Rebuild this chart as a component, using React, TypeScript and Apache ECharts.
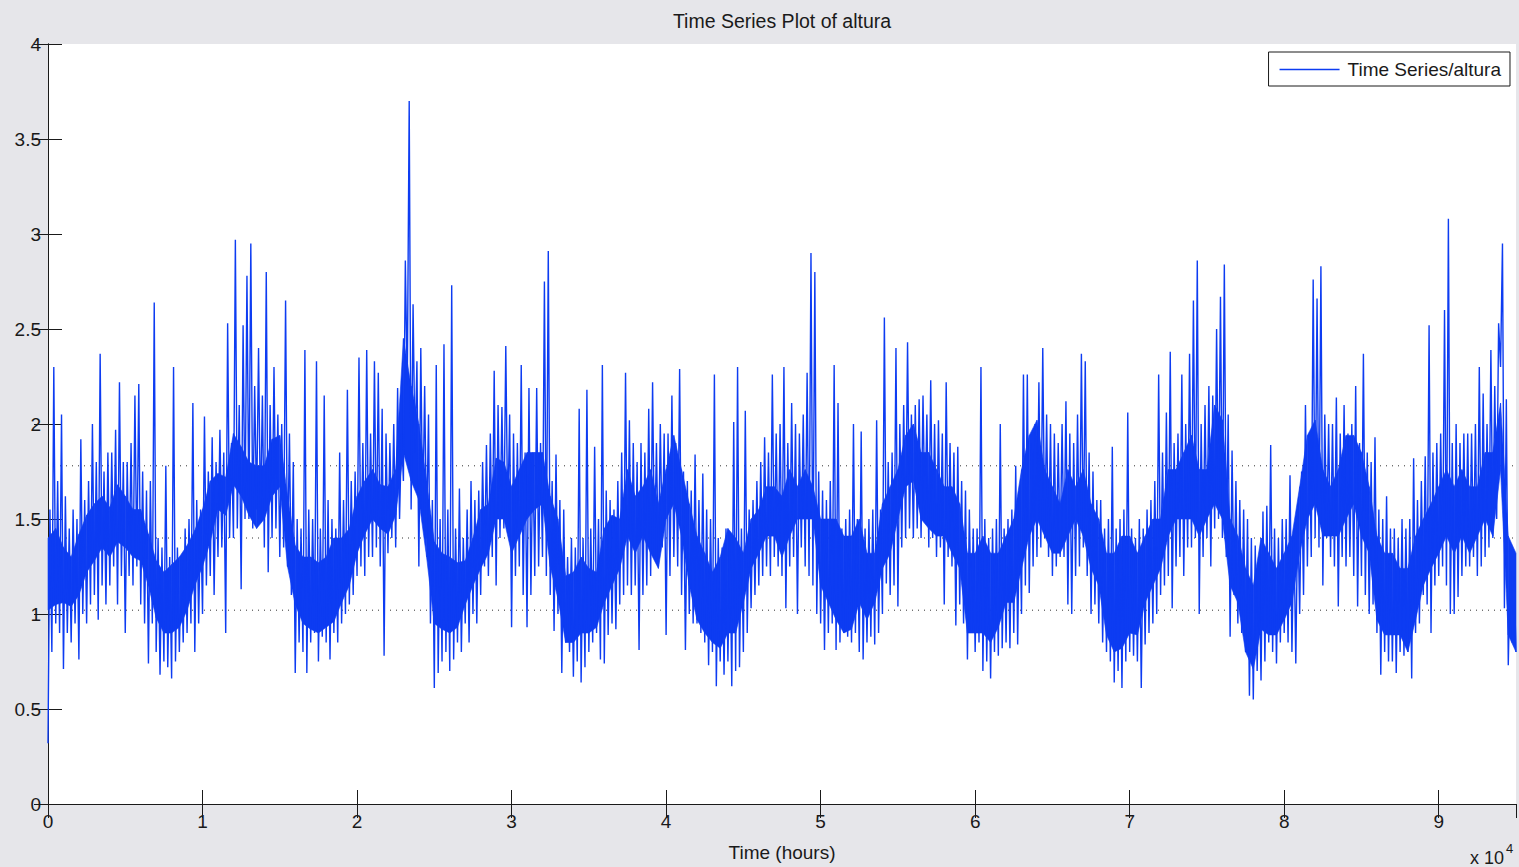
import React, { useEffect, useRef } from "react";
import * as echarts from "echarts";

// Sampled reading of the hourly series (one value every 125 hours, 0 .. 95000 h)
const HOURS_STEP = 125;
const altura: number[] = [
  // 0 – 10 000 h
  0.32, 1.55, 0.80, 2.30, 0.95, 1.70, 0.90, 2.05,
  0.71, 1.62, 0.90, 1.45, 0.85, 1.55, 0.95, 1.50,
  0.76, 1.92, 1.00, 1.60, 0.95, 1.70, 1.05, 2.00,
  1.10, 1.80, 0.97, 2.37, 1.15, 1.75, 1.05, 1.85,
  1.15, 1.85, 1.25, 1.97, 1.05, 2.22, 1.20, 1.80,
  0.90, 1.80, 1.20, 1.90, 1.15, 2.15, 1.25, 2.21,
  1.05, 1.75, 0.95, 1.65, 0.74, 1.70, 0.95, 2.64,
  0.80, 1.40, 0.68, 1.35, 0.75, 1.78, 0.72, 1.30,
  0.66, 2.30, 0.75, 1.35, 0.80, 1.30, 0.85, 1.45,
  0.90, 1.50, 0.95, 2.11, 0.80, 1.60, 0.95, 1.55,
  // 10 000 – 20 000 h
  1.00, 2.04, 1.15, 1.75, 1.20, 1.93, 1.10, 1.80,
  1.30, 1.97, 1.35, 1.85, 0.90, 2.53, 1.40, 1.90,
  1.40, 2.97, 1.45, 2.10, 1.13, 2.52, 1.50, 2.78,
  1.50, 2.95, 1.45, 2.20, 1.55, 2.40, 1.50, 2.15,
  1.35, 2.80, 1.22, 2.10, 1.40, 2.30, 1.45, 2.05,
  1.30, 2.00, 1.35, 2.65, 1.25, 1.95, 1.10, 1.80,
  0.69, 1.50, 0.85, 1.45, 0.80, 2.39, 0.69, 1.55,
  0.85, 1.50, 0.90, 2.33, 0.75, 1.45, 0.88, 2.15,
  0.85, 1.60, 0.76, 1.50, 0.90, 1.45, 0.85, 1.85,
  0.95, 1.60, 1.00, 2.18, 1.05, 1.70, 1.10, 1.75,
  // 20 000 – 30 000 h
  1.20, 2.35, 1.25, 1.90, 1.20, 2.39, 1.30, 1.95,
  1.30, 2.33, 1.35, 2.27, 1.25, 2.08, 0.78, 1.95,
  1.32, 1.90, 1.40, 2.00, 1.35, 2.19, 1.50, 1.95,
  1.70, 2.86, 2.20, 3.70, 1.55, 2.63, 1.85, 2.33,
  1.25, 2.40, 1.50, 2.20, 1.40, 2.05, 0.95, 1.60,
  0.61, 2.31, 0.69, 1.50, 0.75, 2.42, 0.80, 1.55,
  0.70, 2.73, 0.76, 1.45, 0.85, 1.66, 0.80, 1.40,
  0.95, 1.55, 0.85, 1.70, 1.00, 1.60, 0.95, 1.65,
  1.10, 1.80, 1.25, 1.89, 1.20, 1.95, 1.30, 2.28,
  1.15, 2.10, 1.40, 2.09, 1.45, 2.41, 1.50, 2.05,
  // 30 000 – 40 000 h
  0.93, 1.95, 1.20, 1.90, 1.25, 2.31, 1.10, 1.85,
  0.93, 2.19, 1.10, 1.85, 1.20, 2.19, 1.25, 1.90,
  1.30, 2.75, 1.20, 2.91, 1.10, 1.70, 0.91, 1.84,
  1.00, 1.60, 0.69, 1.55, 0.85, 1.30, 0.80, 1.40,
  0.67, 1.35, 0.75, 2.08, 0.64, 1.40, 0.72, 2.18,
  0.80, 1.45, 0.85, 1.88, 0.90, 1.50, 0.76, 2.31,
  0.74, 1.65, 0.89, 1.60, 0.95, 1.55, 0.92, 1.70,
  1.05, 1.85, 1.10, 2.27, 1.15, 2.02, 1.10, 1.90,
  1.15, 1.80, 0.81, 1.90, 1.10, 1.85, 1.15, 2.08,
  1.20, 2.22, 1.30, 1.90, 1.25, 2.00, 1.35, 1.95,
  // 40 000 – 50 000 h
  0.89, 1.95, 1.20, 2.15, 1.30, 1.90, 1.25, 2.29,
  1.10, 1.75, 0.81, 1.70, 1.00, 1.65, 0.95, 1.84,
  0.95, 1.60, 0.90, 1.74, 0.85, 1.55, 0.73, 1.50,
  0.80, 2.26, 0.62, 1.40, 0.75, 1.35, 0.68, 1.45,
  0.75, 1.40, 0.62, 2.01, 0.70, 2.30, 0.72, 1.45,
  0.80, 2.07, 0.90, 1.55, 1.03, 1.60, 1.10, 1.70,
  1.15, 1.80, 1.20, 1.93, 1.25, 1.85, 1.20, 2.26,
  1.30, 1.95, 1.25, 2.00, 1.20, 2.30, 1.03, 1.90,
  1.25, 2.11, 1.30, 2.00, 1.00, 1.95, 1.35, 2.05,
  1.25, 2.27, 1.20, 2.90, 1.15, 2.80, 1.00, 1.75,
  // 50 000 – 60 000 h
  0.95, 1.65, 0.81, 1.60, 0.90, 1.70, 0.95, 2.31,
  0.81, 2.11, 0.85, 1.45, 0.90, 1.50, 0.88, 1.55,
  0.85, 2.00, 0.90, 1.50, 0.80, 1.96, 0.76, 1.45,
  0.85, 1.50, 0.88, 1.55, 0.84, 2.02, 0.90, 1.55,
  1.00, 2.56, 1.16, 1.80, 1.10, 1.85, 1.15, 2.40,
  1.04, 2.00, 1.35, 2.10, 1.40, 2.43, 1.45, 2.05,
  1.40, 2.10, 1.45, 2.13, 1.40, 2.15, 1.50, 2.05,
  1.35, 2.23, 1.40, 2.00, 1.30, 2.02, 1.35, 1.95,
  1.05, 2.22, 1.30, 1.90, 1.25, 1.85, 0.94, 1.88,
  1.05, 1.70, 0.95, 1.65, 0.76, 1.55, 0.90, 1.45,
  // 60 000 – 70 000 h
  0.80, 1.45, 0.85, 2.30, 0.70, 1.50, 0.75, 1.40,
  0.66, 1.45, 0.80, 1.50, 0.78, 2.00, 0.82, 1.45,
  0.85, 1.50, 0.82, 1.55, 0.90, 1.78, 0.84, 1.60,
  1.00, 2.26, 1.15, 2.26, 1.11, 1.90, 1.25, 2.00,
  1.30, 2.22, 1.35, 2.40, 1.40, 2.05, 1.30, 2.00,
  1.20, 1.95, 1.25, 1.90, 1.30, 2.00, 1.30, 2.12,
  1.05, 1.95, 1.00, 1.90, 1.20, 2.05, 1.25, 2.37,
  1.35, 2.33, 1.20, 1.85, 1.00, 1.75, 1.05, 1.60,
  0.95, 1.60, 0.85, 1.45, 0.80, 1.50, 0.75, 1.88,
  0.64, 1.45, 0.70, 1.50, 0.61, 1.55, 0.75, 2.06,
  // 70 000 – 80 000 h
  0.80, 1.45, 0.78, 1.40, 0.75, 1.50, 0.61, 1.45,
  0.84, 1.55, 0.90, 1.60, 0.95, 1.70, 1.00, 2.26,
  1.10, 1.85, 1.15, 2.06, 1.20, 2.38, 1.03, 1.90,
  1.25, 1.95, 1.30, 2.26, 1.20, 2.00, 1.35, 2.37,
  1.35, 2.65, 1.40, 2.86, 1.00, 2.00, 1.30, 2.10,
  1.40, 2.20, 1.25, 2.15, 1.45, 2.50, 1.50, 2.67,
  1.40, 2.84, 1.30, 2.05, 0.88, 1.86, 1.10, 1.70,
  0.95, 1.60, 0.90, 1.55, 0.80, 1.50, 0.57, 1.40,
  0.55, 1.36, 0.70, 1.30, 0.65, 1.54, 0.75, 1.57,
  0.85, 1.89, 0.80, 1.45, 0.74, 1.40, 0.85, 1.50,
  // 80 000 – 90 000 h
  0.90, 1.50, 0.85, 1.73, 0.80, 1.45, 0.74, 1.55,
  1.00, 1.75, 1.10, 2.10, 1.25, 1.95, 1.30, 2.76,
  1.40, 2.66, 1.35, 2.83, 1.15, 2.05, 1.40, 2.00,
  1.30, 2.00, 1.25, 2.14, 1.04, 1.95, 1.30, 2.10,
  1.25, 1.95, 1.30, 2.00, 1.20, 2.20, 1.04, 1.90,
  1.20, 2.37, 1.10, 1.85, 1.00, 1.80, 1.05, 1.93,
  0.90, 1.55, 0.68, 1.50, 0.80, 1.62, 0.75, 1.45,
  0.75, 1.45, 0.69, 1.40, 0.80, 1.50, 0.78, 1.45,
  0.80, 1.50, 0.66, 1.82, 0.90, 1.60, 0.95, 1.70,
  1.10, 1.83, 1.05, 2.52, 0.90, 1.85, 1.15, 1.90,
  // 90 000 – 95 000 h
  1.20, 1.95, 1.25, 2.60, 1.15, 3.08, 1.00, 1.90,
  1.00, 2.00, 1.09, 1.90, 1.20, 1.95, 1.25, 1.95,
  1.25, 1.95, 1.30, 2.00, 1.20, 2.30, 1.25, 2.16,
  1.30, 2.00, 1.35, 2.39, 1.40, 2.20, 1.50, 2.53,
  2.30, 2.95, 1.03, 2.13, 0.73, 1.25, 0.85, 1.20,
  0.80,
];

// Dense body of the trace (lower / upper edge), one reading every 500 hours
const BODY_STEP = 500;
const bodyLow: number[] = [
  1.02, 1.05, 1.06, 1.04, 1.10, 1.22, 1.28, 1.35, 1.30, 1.38, 1.35, 1.30, 1.28, 1.15, 0.98, 0.90,
  0.90, 0.93, 1.02, 1.15, 1.25, 1.38, 1.55, 1.52, 1.68, 1.62, 1.52, 1.45, 1.50, 1.62, 1.67, 1.25,
  1.05, 0.95, 0.92, 0.90, 0.93, 0.96, 1.06, 1.15, 1.32, 1.42, 1.50, 1.45, 1.42, 1.52, 1.85, 1.70,
  1.60, 1.30, 0.95, 0.92, 0.90, 0.93, 1.05, 1.15, 1.24, 1.32, 1.50, 1.50, 1.32, 1.41, 1.50, 1.55,
  1.58, 1.25, 1.08, 0.85, 0.85, 0.90, 0.90, 0.93, 1.06, 1.15, 1.24, 1.41, 1.32, 1.41, 1.32, 1.24,
  1.50, 1.58, 1.41, 1.15, 0.97, 0.90, 0.85, 0.82, 0.90, 0.90, 1.06, 1.24, 1.32, 1.41, 1.41, 1.30,
  1.41, 1.50, 1.50, 1.50, 1.15, 1.06, 0.97, 0.90, 0.92, 1.06, 0.97, 1.06, 1.24, 1.32, 1.50, 1.67,
  1.70, 1.50, 1.45, 1.41, 1.41, 1.32, 1.24, 0.90, 0.90, 0.90, 0.85, 0.93, 1.06, 1.06, 1.24, 1.41,
  1.50, 1.41, 1.32, 1.32, 1.41, 1.50, 1.41, 1.24, 1.15, 0.89, 0.80, 0.82, 0.90, 0.89, 1.06, 1.15,
  1.24, 1.41, 1.50, 1.50, 1.50, 1.41, 1.50, 1.58, 1.50, 1.15, 1.06, 0.80, 0.71, 0.92, 0.89, 0.89,
  0.97, 1.06, 1.32, 1.50, 1.58, 1.41, 1.41, 1.41, 1.50, 1.58, 1.41, 1.32, 0.97, 0.89, 0.89, 0.89,
  0.80, 0.97, 1.15, 1.24, 1.32, 1.41, 1.32, 1.41, 1.32, 1.41, 1.50, 1.41, 1.76, 0.89, 0.80,
];
const bodyHigh: number[] = [
  1.40, 1.45, 1.35, 1.30, 1.42, 1.52, 1.58, 1.62, 1.56, 1.68, 1.62, 1.55, 1.55, 1.42, 1.28, 1.22,
  1.26, 1.30, 1.36, 1.44, 1.55, 1.70, 1.74, 1.72, 1.95, 1.88, 1.80, 1.78, 1.78, 1.92, 1.94, 1.62,
  1.36, 1.30, 1.30, 1.27, 1.30, 1.40, 1.40, 1.45, 1.62, 1.70, 1.76, 1.68, 1.67, 1.76, 2.45, 2.20,
  2.00, 1.70, 1.38, 1.32, 1.30, 1.27, 1.28, 1.40, 1.55, 1.58, 1.82, 1.80, 1.67, 1.76, 1.85, 1.85,
  1.85, 1.62, 1.50, 1.20, 1.22, 1.30, 1.24, 1.22, 1.45, 1.52, 1.50, 1.76, 1.62, 1.67, 1.76, 1.58,
  1.76, 1.94, 1.76, 1.58, 1.41, 1.32, 1.22, 1.30, 1.45, 1.40, 1.32, 1.50, 1.55, 1.67, 1.67, 1.62,
  1.76, 1.67, 1.76, 1.67, 1.50, 1.50, 1.50, 1.41, 1.41, 1.50, 1.32, 1.32, 1.58, 1.67, 1.76, 1.94,
  2.00, 1.85, 1.85, 1.76, 1.67, 1.67, 1.58, 1.32, 1.32, 1.41, 1.32, 1.32, 1.41, 1.50, 1.76, 1.94,
  2.02, 1.76, 1.67, 1.58, 1.76, 1.67, 1.76, 1.58, 1.50, 1.32, 1.32, 1.41, 1.41, 1.32, 1.41, 1.50,
  1.50, 1.76, 1.76, 1.85, 1.94, 1.76, 1.76, 2.10, 2.02, 1.50, 1.41, 1.24, 1.15, 1.40, 1.32, 1.24,
  1.32, 1.41, 1.67, 1.94, 2.02, 1.76, 1.67, 1.76, 1.94, 1.94, 1.85, 1.67, 1.41, 1.32, 1.32, 1.24,
  1.24, 1.41, 1.50, 1.58, 1.67, 1.76, 1.67, 1.76, 1.67, 1.67, 1.85, 1.85, 2.11, 1.41, 1.32,
];

// Reference lines: mean and mean ± one standard deviation
const MEAN = 1.40;
const STD = 0.38;

const X_MAX = 95000;
const X_TICK = 10000;
const Y_TICKS = { min: 0, max: 4, interval: 0.5 };

const SERIES_NAME = "Time Series/altura";
const BLUE = "#0d3cf2";
const FONT = "'Liberation Sans', Arial, Helvetica, sans-serif";
const INK = "#1a1a1a";
const FS = 19;

export default function App() {
  const ref = useRef<HTMLDivElement>(null);

  useEffect(() => {
    if (!ref.current) return;
    const chart = echarts.init(ref.current, undefined, { renderer: "svg" });

    const lineData = altura.map((v, i) => [i * HOURS_STEP, v]);
    // one quad per pair of consecutive body readings: [x0, low0, high0, x1, low1, high1]
    const bandData = bodyLow.slice(0, -1).map((v, i) => [
      i * BODY_STEP,
      v,
      bodyHigh[i],
      (i + 1) * BODY_STEP,
      bodyLow[i + 1],
      bodyHigh[i + 1],
    ]);
    const refLine = (y: number) => [
      [0, y],
      [X_MAX, y],
    ];

    const tickStyle = { color: INK, width: 1 };
    const axisLine = { show: true, lineStyle: tickStyle };
    const axisTick = { show: true, inside: true, length: 14, lineStyle: tickStyle };

    chart.setOption({
      animation: false,
      backgroundColor: "#e6e6ea",
      textStyle: { fontFamily: FONT },
      title: {
        text: "Time Series Plot of altura",
        left: 777,
        textAlign: "center",
        top: 6,
        textStyle: { fontFamily: FONT, fontSize: 19.5, fontWeight: "normal", color: INK },
      },
      legend: {
        data: [{ name: SERIES_NAME, icon: "rect" }],
        right: 9,
        top: 52,
        padding: [8, 9, 7, 11],
        itemWidth: 60,
        itemHeight: 1.5,
        itemGap: 0,
        backgroundColor: "#ffffff",
        borderColor: INK,
        borderWidth: 1,
        borderRadius: 0,
        textStyle: { fontFamily: FONT, fontSize: FS, color: INK, padding: [0, 0, 0, 3] },
      },
      grid: {
        left: 48,
        right: 3,
        top: 44,
        bottom: 62,
        show: true,
        backgroundColor: "#ffffff",
        borderWidth: 0,
      },
      xAxis: [
        {
          type: "value",
          min: 0,
          max: X_MAX,
          interval: X_TICK,
          position: "bottom",
          axisLine,
          axisTick,
          splitLine: { show: false },
          axisLabel: {
            fontFamily: FONT,
            fontSize: FS,
            color: INK,
            margin: 8,
            showMaxLabel: false,
            formatter: (v: number) => String(v / 10000),
          },
          name: "Time (hours)",
          nameLocation: "middle",
          nameGap: 39,
          nameTextStyle: { fontFamily: FONT, fontSize: FS, color: INK },
        },
        {
          type: "value",
          min: 0,
          max: X_MAX,
          interval: X_TICK,
          position: "top",
          axisLine,
          axisTick,
          splitLine: { show: false },
          axisLabel: { show: false },
        },
      ],
      yAxis: [
        {
          type: "value",
          ...Y_TICKS,
          position: "left",
          axisLine,
          axisTick,
          splitLine: { show: false },
          axisLabel: { fontFamily: FONT, fontSize: FS, color: INK, margin: 7 },
        },
        {
          type: "value",
          ...Y_TICKS,
          position: "right",
          axisLine,
          axisTick,
          splitLine: { show: false },
          axisLabel: { show: false },
        },
      ],
      series: [
        ...[MEAN - STD, MEAN, MEAN + STD].map((y, i) => ({
          name: "ref" + i,
          type: "line",
          data: refLine(y),
          showSymbol: false,
          symbol: "none",
          silent: true,
          z: 1,
          lineStyle: { color: "#333", width: 1, type: [1, 5] },
        })),
        {
          name: "body",
          type: "custom",
          silent: true,
          z: 2,
          data: bandData,
          encode: { x: [0, 3], y: [1, 2, 4, 5] },
          renderItem: (params: any, api: any) => {
            const a = api.coord([api.value(0), api.value(1)]);
            const b = api.coord([api.value(0), api.value(2)]);
            const c = api.coord([api.value(3), api.value(5)]);
            const d = api.coord([api.value(3), api.value(4)]);
            return {
              type: "polygon",
              shape: { points: [a, b, c, d] },
              style: { fill: BLUE, stroke: BLUE, lineWidth: 0.6 },
            };
          },
        },
        {
          name: SERIES_NAME,
          type: "line",
          data: lineData,
          symbol: "none",
          showSymbol: false,
          z: 3,
          color: BLUE,
          lineStyle: { color: BLUE, width: 1.4 },
        },
      ],
      graphic: [
        {
          type: "text",
          left: 1470,
          top: 849,
          style: { text: "x 10", font: `18px ${FONT}`, fill: INK },
        },
        {
          type: "text",
          left: 1506,
          top: 842,
          style: { text: "4", font: `13px ${FONT}`, fill: INK },
        },
      ],
    });

    return () => chart.dispose();
  }, []);

  return (
    <div
      ref={ref}
      style={{ position: "fixed", left: 0, top: 0, width: 1519, height: 867 }}
    />
  );
}
